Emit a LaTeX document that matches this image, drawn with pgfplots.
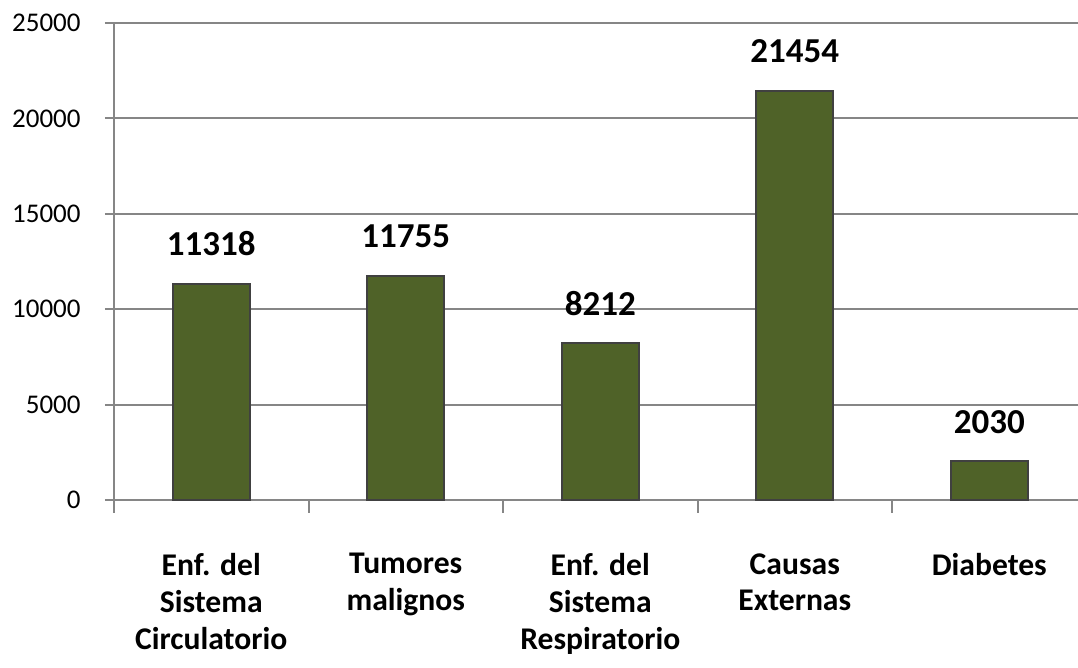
\documentclass[border=0pt]{standalone}
\usepackage{fontspec}
\setmainfont{Carlito}
\usepackage{pgfplots}
\pgfplotsset{compat=1.18}
\definecolor{barfill}{HTML}{4F6228}
\definecolor{baredge}{HTML}{404040}
\definecolor{gridc}{HTML}{868686}
\begin{document}
\begin{tikzpicture}
\begin{axis}[
  scale only axis, width=482pt, height=238.5pt,
  xmin=-0.5, xmax=4.456, ymin=0, ymax=25000,
  clip=false,
  axis x line=bottom, axis y line=left,
  axis line style={-, gridc, line width=1pt},
  ytick={0,5000,...,25000}, ymajorgrids,
  grid style={gridc, line width=1pt},
  tick align=outside,
  tick style={gridc, line width=1pt},
  major tick length=4.5pt,
  scaled ticks=false,
  /pgf/number format/assume math mode=true,
  /pgf/number format/1000 sep={},
  yticklabel style={font=\fontsize{13.5}{15}\selectfont, anchor=east, inner sep=0pt, xshift=-12pt},
  xtick={-0.5,0.5,1.5,2.5,3.5}, xticklabels={},
  xtick style={/pgfplots/major tick length=6.5pt},
  extra x ticks={0,1,2,3,4},
  extra x tick labels={Enf. del\\Sistema\\Circulatorio, Tumores\\malignos, Enf. del\\Sistema\\Respiratorio, Causas\\Externas, Diabetes},
  extra x tick style={tick style={draw=none}, xticklabel style={align=center, font=\bfseries\fontsize{15.8}{18.4}\selectfont, anchor=north, inner sep=0pt, yshift=-22pt}},
  ybar, bar width=38.5pt, bar shift=0pt,
  nodes near coords,
  every node near coord/.append style={font=\bfseries\fontsize{17.5}{19}\selectfont, anchor=south, inner sep=0pt, yshift=13.5pt, color=black},
]
\addplot[fill=barfill, draw=baredge, line width=1pt] coordinates {(0,11318) (1,11755) (2,8212) (3,21454) (4,2030)};
\end{axis}
\pgfresetboundingbox
\path (-57pt,-84pt) rectangle (482pt,250pt);
\end{tikzpicture}
\end{document}
